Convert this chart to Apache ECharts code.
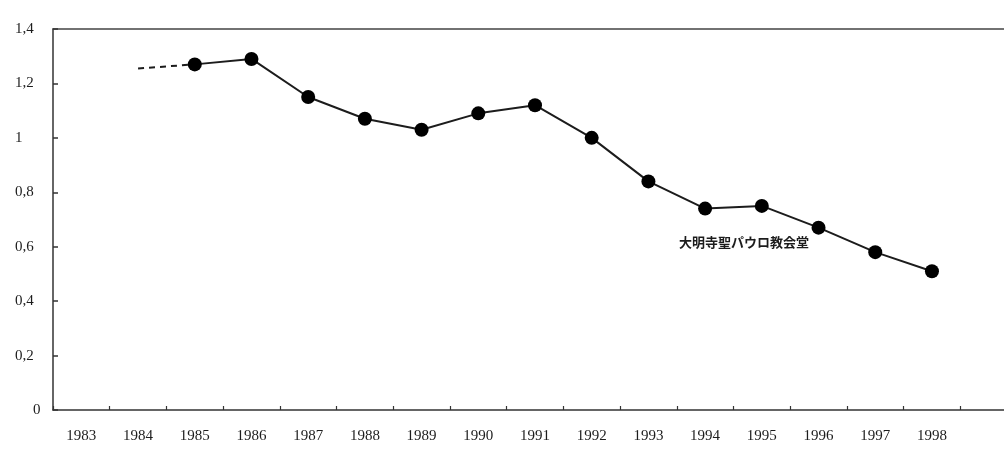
<!DOCTYPE html>
<html>
<head>
<meta charset="utf-8">
<style>
  html, body { margin: 0; padding: 0; background: #ffffff; }
  #chart { width: 1004px; height: 449px; }
</style>
<script src="https://cdn.jsdelivr.net/npm/echarts@6/dist/echarts.min.js"></script>
</head>
<body>
<div id="chart"></div>
<script>
// Years on the horizontal axis (one trailing empty slot keeps the axis running past 1998)
const years = ['1983', '1984', '1985', '1986', '1987', '1988', '1989', '1990',
               '1991', '1992', '1993', '1994', '1995', '1996', '1997', '1998', ''];

// Yearly values, solid part of the curve
const ratio = [null, null, 1.27, 1.29, 1.15, 1.07, 1.03, 1.09,
               1.12, 1.00, 0.84, 0.74, 0.75, 0.67, 0.58, 0.51, null];

// Dashed lead-in before the first measured year
const ratioLeadIn = [null, 1.255, 1.27, null, null, null, null, null,
                     null, null, null, null, null, null, null, null, null];

// Value-axis tick labels (decimal comma)
const yTickLabels = ['0', '0,2', '0,4', '0,6', '0,8', '1', '1,2', '1,4'];

const seriesName = '大明寺聖パウロ教会堂';
const labelYear = '1994';

const ink = '#1c1c1c';
const serif = '"Liberation Serif", "DejaVu Serif", serif';

const chart = echarts.init(document.getElementById('chart'), null, { renderer: 'canvas' });

chart.setOption({
  backgroundColor: '#ffffff',
  animation: false,
  grid: { left: 53, top: 29, width: 964, height: 381, containLabel: false, outerBoundsMode: 'none' },
  xAxis: [
    {
      type: 'category',
      data: years,
      boundaryGap: true,
      axisLine: { lineStyle: { color: '#333', width: 1.5 } },
      axisTick: { show: true, inside: true, length: 4, alignWithLabel: false,
                  lineStyle: { color: '#333', width: 1.2 } },
      axisLabel: { color: ink, fontFamily: serif, fontSize: 15, margin: 19, interval: 0 }
    },
    {
      // top border of the plot frame
      type: 'category',
      position: 'top',
      data: years,
      axisLine: { show: true, lineStyle: { color: '#444', width: 1.5 } },
      axisTick: { show: false },
      axisLabel: { show: false }
    }
  ],
  yAxis: {
    type: 'value',
    min: 0,
    max: 1.4,
    interval: 0.2,
    splitLine: { show: false },
    axisLine: { show: true, lineStyle: { color: '#333', width: 1.5 } },
    axisTick: { show: true, inside: true, length: 5, lineStyle: { color: '#333', width: 1.5 } },
    axisLabel: {
      color: ink,
      fontFamily: serif,
      fontSize: 15,
      align: 'left',
      margin: 38,
      formatter: function (v) {
        const s = yTickLabels[Math.round(v / 0.2)];
        return v === 0 ? '{z|' + s + '}' : s;
      },
      rich: {
        z: { color: ink, fontFamily: serif, fontSize: 15, padding: [0, 0, 0, 18] }
      }
    }
  },
  series: [
    {
      name: seriesName + '（推定）',
      type: 'line',
      data: ratioLeadIn,
      symbol: 'none',
      connectNulls: false,
      lineStyle: { color: ink, width: 2, type: [6, 5] },
      z: 1
    },
    {
      name: seriesName,
      type: 'line',
      data: ratio,
      symbol: 'circle',
      symbolSize: 14,
      connectNulls: false,
      lineStyle: { color: ink, width: 2 },
      itemStyle: { color: '#000' },
      label: {
        show: true,
        position: 'inside',
        offset: [39, 33],
        color: ink,
        fontFamily: '"Noto Sans CJK JP", sans-serif',
        fontWeight: 'bold',
        fontSize: 13,
        formatter: function (p) {
          return p.name === labelYear ? seriesName : '';
        }
      },
      z: 2
    }
  ]
});
</script>
</body>
</html>
